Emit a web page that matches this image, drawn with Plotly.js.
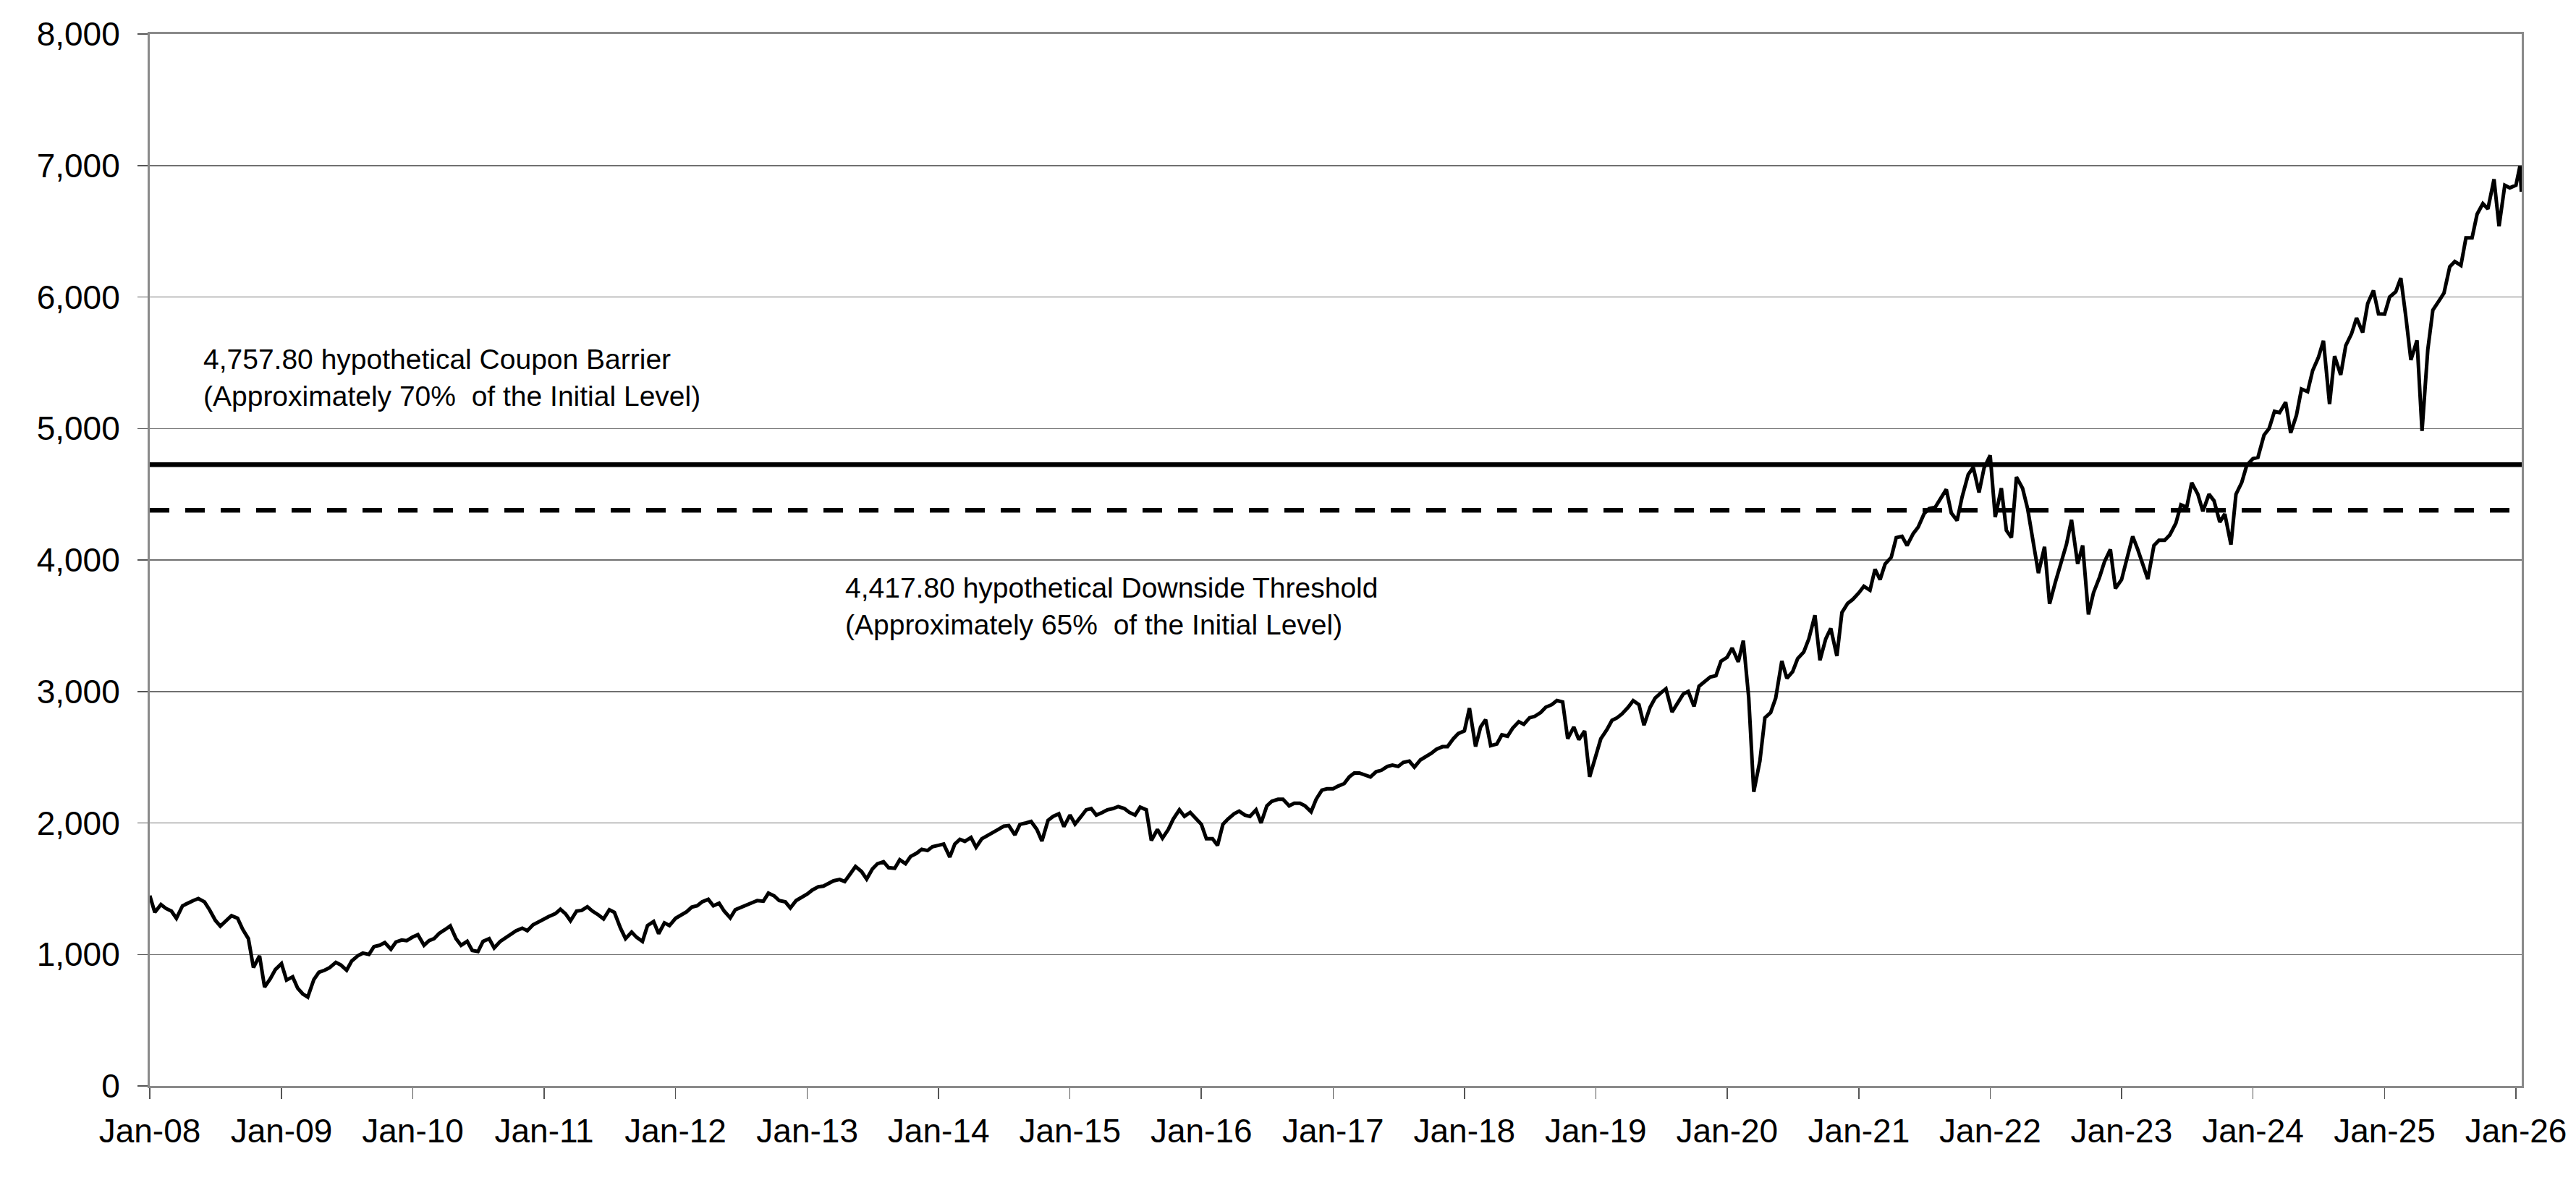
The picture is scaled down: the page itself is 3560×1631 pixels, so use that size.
<!DOCTYPE html>
<html>
<head>
<meta charset="utf-8">
<script src="https://cdn.plot.ly/plotly-3.0.1.min.js"></script>
<style>
  html, body { margin: 0; padding: 0; background: #fff; }
  #chart { width: 3560px; height: 1631px; }
</style>
</head>
<body>
<div id="chart"></div>
<script>
// index level: two values per month (around the 1st and the 15th)
const y2008 = [1447,1320, 1380,1350, 1330,1275, 1370,1390, 1410,1425, 1400,1340, 1260,1215, 1260,1295, 1275,1192, 1120,900, 990,752, 816,885];
const y2009 = [930,805, 830,743, 700,676, 810,865, 880,900, 940,920, 880,950, 990,1010, 1000,1060, 1070,1090, 1040,1095, 1110,1105];
const y2010 = [1133,1150, 1070,1105, 1120,1160, 1190,1217, 1120,1070, 1100,1030, 1022,1100, 1120,1050, 1100,1125, 1150,1180, 1200,1180, 1225,1245];
const y2011 = [1275,1290, 1310,1343, 1310,1256, 1330,1335, 1363,1330, 1300,1270, 1340,1320, 1200,1120, 1170,1130, 1099,1220, 1250,1158, 1240,1220];
const y2012 = [1275,1300, 1325,1360, 1370,1400, 1419,1370, 1390,1330, 1278,1340, 1360,1375, 1395,1410, 1405,1466, 1445,1410, 1400,1353, 1410,1430];
const y2013 = [1460,1490, 1515,1520, 1540,1560, 1570,1555, 1615,1669, 1630,1573, 1650,1690, 1705,1660, 1655,1720, 1690,1745, 1770,1800, 1790,1820];
const y2014 = [1830,1840, 1741,1840, 1875,1860, 1890,1815, 1880,1900, 1925,1950, 1975,1980, 1909,1990, 2000,2011, 1950,1862, 2020,2050, 2070,1972];
const y2015 = [2060,1992, 2050,2100, 2110,2060, 2080,2100, 2110,2125, 2110,2080, 2060,2120, 2100,1867, 1950,1884, 1950,2030, 2100,2050, 2080,2040];
const y2016 = [1990,1880, 1880,1829, 1990,2030, 2070,2090, 2060,2050, 2100,2000, 2130,2165, 2180,2180, 2130,2150, 2150,2130, 2085,2180, 2250,2260];
const y2017 = [2260,2280, 2300,2350, 2380,2380, 2360,2350, 2390,2400, 2430,2440, 2430,2460, 2470,2425, 2480,2500, 2530,2560, 2580,2580, 2640,2680];
const y2018 = [2700,2873, 2581,2730, 2786,2588, 2600,2670, 2660,2720, 2770,2750, 2800,2810, 2840,2880, 2900,2931, 2920,2641, 2730,2633, 2700,2351];
const y2019 = [2510,2640, 2710,2780, 2800,2830, 2880,2930, 2900,2744, 2880,2950, 2990,3020, 2844,2900, 2980,3000, 2887,3040, 3080,3110, 3120,3230];
const y2020 = [3260,3330, 3225,3386, 2954,2237, 2470,2800, 2840,2950, 3232,3100, 3150,3250, 3300,3400, 3580,3237, 3400,3480, 3270,3600, 3670,3700];
const y2021 = [3750,3800, 3770,3930, 3850,3970, 4020,4170, 4180,4110, 4200,4250, 4350,4390, 4400,4460, 4537,4357, 4300,4480, 4650,4704, 4513,4700];
const y2022 = [4796,4326, 4546,4225, 4170,4631, 4545,4390, 4120,3900, 4100,3667, 3830,3960, 4120,4305, 3970,4110, 3586,3750, 3870,3990, 4080,3783];
const y2023 = [3850,4000, 4179,4080, 3970,3855, 4110,4150, 4150,4190, 4280,4420, 4400,4588, 4500,4370, 4500,4450, 4288,4350, 4117,4500, 4590,4720];
const y2024 = [4770,4780, 4950,5000, 5130,5120, 5200,4967, 5100,5300, 5280,5440, 5540,5667, 5186,5550, 5408,5630, 5720,5840, 5730,5950, 6050,5872];
const y2025 = [5870,6000, 6040,6144, 5850,5521, 5670,4982, 5600,5900, 5970,6030, 6230,6270, 6240,6450, 6450,6630, 6710,6670, 6895,6538, 6850,6830];
// last few points in Jan-26
const dates2026 = ['2026-01-01', '2026-01-12', '2026-01-16'];
const y2026 = [6850, 6995, 6800];

const yearValues = [y2008, y2009, y2010, y2011, y2012, y2013, y2014, y2015, y2016,
                    y2017, y2018, y2019, y2020, y2021, y2022, y2023, y2024, y2025];
const firstYear = 2008;

// the two levels, as drawn on the picture
const couponBarrier = 4725;
const downsideThreshold = 4378;
const couponText = '4,757.80 hypothetical Coupon Barrier<br>(Approximately 70%  of the Initial Level)';
const downsideText = '4,417.80 hypothetical Downside Threshold<br>(Approximately 65%  of the Initial Level)';

const xStart = '2008-01-01';
const xEnd = '2026-01-17';

// build the date / value series
function buildSeries(){
    const x = [], y = [];
    yearValues.forEach(function(vals, i){
        const yr = firstYear + i;
        for (let k = 0; k < vals.length; k++){
            const m = Math.floor(k / 2) + 1;
            const d = (k % 2 === 0) ? '01' : '15';
            x.push(yr + '-' + (m < 10 ? '0' + m : m) + '-' + d);
            y.push(vals[k]);
        }
    });
    dates2026.forEach(function(d, i){ x.push(d); y.push(y2026[i]); });
    return {x: x, y: y};
}

const series = buildSeries();
const font = {family: 'Liberation Sans, Arial, sans-serif', color: '#000'};

const traceIndex = {
    x: series.x, y: series.y, type: 'scatter', mode: 'lines',
    line: {color: '#000', width: 5}, hoverinfo: 'skip'
};
const traceBarrier = {
    x: [xStart, xEnd], y: [couponBarrier, couponBarrier], type: 'scatter', mode: 'lines',
    line: {color: '#000', width: 6.5}, hoverinfo: 'skip'
};
const traceDownside = {
    x: [xStart, xEnd], y: [downsideThreshold, downsideThreshold], type: 'scatter', mode: 'lines',
    line: {color: '#000', width: 6.5, dash: '27px,22px'}, hoverinfo: 'skip'
};

const layout = {
    width: 3560, height: 1631,
    margin: {l: 207, r: 75, t: 47, b: 130},
    paper_bgcolor: '#fff', plot_bgcolor: '#fff',
    showlegend: false, hovermode: false,
    font: Object.assign({size: 46}, font),
    xaxis: {
        type: 'date', range: [xStart, xEnd],
        tick0: '2008-01-01', dtick: 'M12', tickformat: '%b-%y',
        ticks: 'outside', ticklen: 15, tickwidth: 1.5, tickcolor: '#555',
        showgrid: false, zeroline: false,
        showline: true, linecolor: '#8a8a8a', linewidth: 3, mirror: true,
        tickfont: Object.assign({size: 46}, font), ticklabelstandoff: 5
    },
    yaxis: {
        range: [0, 8000], dtick: 1000, tickformat: ',d',
        ticks: 'outside', ticklen: 14, tickwidth: 1.5, tickcolor: '#555',
        showgrid: true, gridcolor: '#707070', gridwidth: 1.5, zeroline: false,
        showline: true, linecolor: '#8a8a8a', linewidth: 3, mirror: true,
        tickfont: Object.assign({size: 46}, font), ticklabelstandoff: 15
    },
    annotations: [
        {text: couponText, xref: 'paper', yref: 'y', x: 0.022, y: 5387,
         xanchor: 'left', yanchor: 'middle', align: 'left', showarrow: false,
         font: Object.assign({size: 39}, font)},
        {text: downsideText, xref: 'paper', yref: 'y', x: 0.2926, y: 3648,
         xanchor: 'left', yanchor: 'middle', align: 'left', showarrow: false,
         font: Object.assign({size: 39}, font)}
    ]
};

Plotly.newPlot('chart', [traceIndex, traceBarrier, traceDownside], layout, {displayModeBar: false, staticPlot: true});
</script>
</body>
</html>
